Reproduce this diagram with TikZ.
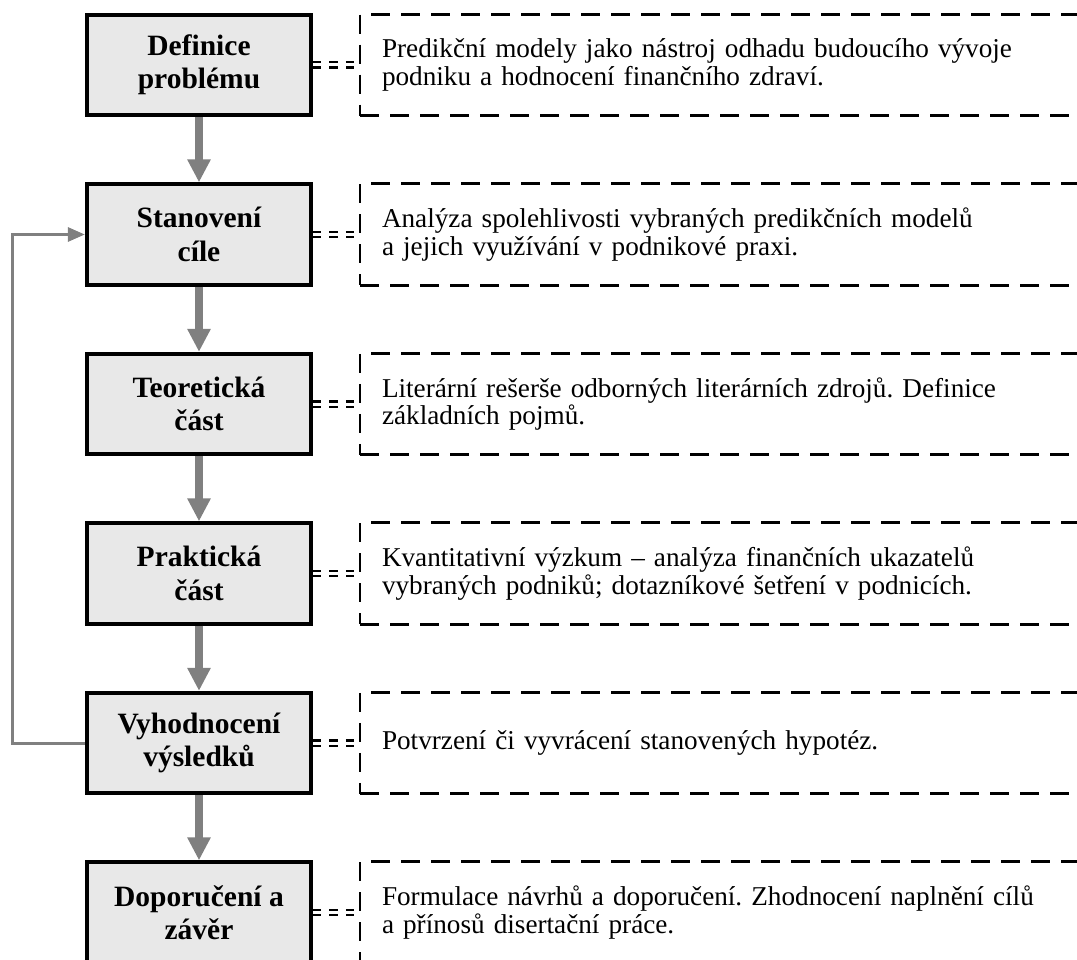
\documentclass[tikz,border=0pt]{standalone}
\usepackage{fontspec}
\setmainfont{Liberation Serif}
\usetikzlibrary{arrows.meta}
\definecolor{boxfill}{HTML}{E8E8E8}
\definecolor{arrgray}{HTML}{808080}
\frenchspacing
\begin{document}
\begin{tikzpicture}[x=1pt,y=1pt,
 stage/.style={draw=black, line width=3.8pt, fill=boxfill, minimum width=224.5pt, minimum height=100.5pt, inner sep=0pt, align=center, font=\fontsize{29.5}{33.4}\selectfont\bfseries},
 note/.style={draw=black, line width=2.7pt, dash pattern=on 19pt off 11pt, text width=700pt, inner xsep=22pt, inner ysep=0pt, minimum height=101.5pt, align=left, font=\fontsize{27.2}{27.3}\selectfont},
 flow/.style={draw=arrgray, line width=8pt, -{Triangle[width=22pt,length=23pt]}},
 back/.style={draw=arrgray, line width=3pt, -{Triangle[width=14pt,length=17pt]}},
 link/.style={draw=black, line width=2.2pt, double=white, double distance=3pt, dash pattern=on 8.3pt off 8pt}
]
\useasboundingbox (0,0) rectangle (1077,-960);
\clip (0,0) rectangle (1077,-960);

\node[stage] (b1) at (199,-65) {Definice\\problému};
\node[stage] (b2) at (199,-234.5) {Stanovení\\cíle};
\node[stage] (b3) at (199,-404) {Teoretická\\část};
\node[stage] (b4) at (199,-573.5) {Praktická\\část};
\node[stage] (b5) at (199,-743) {Vyhodnocení\\výsledků};
\node[stage] (b6) at (199,-912.5) {Doporučení a\\závěr};

\node[note] (n1) at (732,-65) {Predikční modely jako nástroj odhadu budoucího vývoje\\podniku a hodnocení finančního zdraví.};
\node[note] (n2) at (732,-234.5) {Analýza spolehlivosti vybraných predikčních modelů\\a jejich využívání v podnikové praxi.};
\node[note] (n3) at (732,-404) {Literární rešerše odborných literárních zdrojů. Definice\\základních pojmů.};
\node[note] (n4) at (732,-573.5) {Kvantitativní výzkum – analýza finančních ukazatelů\\vybraných podniků; dotazníkové šetření v podnicích.};
\node[note] (n5) at (732,-743) {Potvrzení či vyvrácení stanovených hypotéz.};
\node[note] (n6) at (732,-912.5) {Formulace návrhů a doporučení. Zhodnocení naplnění cílů\\a přínosů disertační práce.};

\draw[flow] (b1.south) -- (b2.north);
\draw[flow] (b2.south) -- (b3.north);
\draw[flow] (b3.south) -- (b4.north);
\draw[flow] (b4.south) -- (b5.north);
\draw[flow] (b5.south) -- (b6.north);

\coordinate (loop) at (12,0);
\draw[back] (b5.west) -- (b5.west -| loop) |- (b2.west);

\foreach \i in {1,...,6} {
  \draw[link] (b\i.east) -- (n\i.west);
}
\end{tikzpicture}
\end{document}
